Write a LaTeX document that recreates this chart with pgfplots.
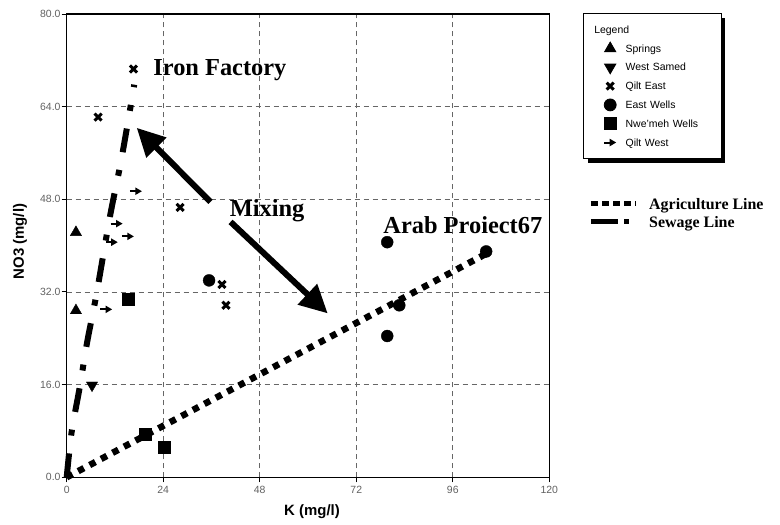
\documentclass[border=0pt]{standalone}
\usepackage{fontspec}
\setmainfont{Liberation Sans}
\newfontfamily\timesfont{Liberation Serif}
\usepackage{pgfplots}
\pgfplotsset{compat=1.18}
\usetikzlibrary{arrows.meta,shadows}

% right-pointing arrow used for the Qilt West samples
\pgfdeclareplotmark{qiltwest}{%
  \pgfsetlinewidth{2pt}%
  \pgfpathmoveto{\pgfqpoint{-6pt}{0pt}}%
  \pgfpathlineto{\pgfqpoint{0.5pt}{0pt}}%
  \pgfusepathqstroke
  \pgfpathmoveto{\pgfqpoint{-0.5pt}{3.8pt}}%
  \pgfpathlineto{\pgfqpoint{6pt}{0pt}}%
  \pgfpathlineto{\pgfqpoint{-0.5pt}{-3.8pt}}%
  \pgfpathclose
  \pgfusepathqfill}

\pgfplotsset{
  pt/.style={only marks, black, mark options={fill=black, draw=black},
    legend image code/.code={\draw[##1] plot coordinates {(0bp,0bp)};}},
}

\begin{document}
\begin{tikzpicture}
\path[use as bounding box] (-66.7bp,-47.7bp) rectangle (713.3bp,477.3bp);
\begin{axis}[
  at={(0,0)}, anchor=south west,
  scale only axis, width=482.6bp, height=463.3bp,
  xmin=0, xmax=120, ymin=0, ymax=80,
  xtick={0,24,...,120}, ytick={0,16,...,80},
  clip=false,
  grid=major,
  major grid style={dash pattern=on 5bp off 4bp, black!60, line width=0.7bp},
  axis line style={black, line width=1.2bp},
  tick align=outside, tick pos=left,
  major tick length=5bp,
  tick style={black, line width=1bp},
  /pgf/number format/assume math mode=true,
  ticklabel style={font=\fontsize{10.5}{12}\selectfont, text=black!62},
  yticklabel style={inner xsep=1bp, /pgf/number format/.cd, fixed, fixed zerofill, precision=1},
  xticklabel style={/pgf/number format/.cd, fixed, precision=0},
  xlabel={\bfseries K (mg/l)},
  ylabel={\bfseries NO3 (mg/l)},
  label style={font=\fontsize{15}{17}\selectfont},
  xlabel style={at={(axis description cs:0.5,0)}, anchor=center, yshift=-34bp, xshift=4bp},
  ylabel style={at={(axis description cs:-0.0968,0.509)}, anchor=center},
  legend cell align=left,
  legend style={
    at={(1.0705,1.0015)}, anchor=north west,
    draw=black, line width=0.8bp, fill=white,
    drop shadow={shadow xshift=4bp, shadow yshift=-4bp, fill=black, opacity=1},
    font=\fontsize{10.5}{12}\selectfont,
    inner xsep=20.5bp, inner ysep=9.5bp,
    row sep=5.8bp,
    /tikz/every odd column/.append style={column sep=9.5bp},
    nodes={inner sep=0pt, text width=75bp, align=left, text height=10bp, text depth=3bp},
  },
]

\addlegendimage{empty legend}
\addlegendentry{\hspace*{-31.4bp}Legend}

% mixing lines
\addplot[forget plot, black, line width=6.5bp, dash pattern=on 6.5bp off 6.5bp]
  coordinates {(0,0) (104.3,38.6)};
\addplot[forget plot, black, line width=6bp, smooth,
         dash pattern=on 24bp off 18bp on 6bp off 18bp]
  coordinates {(0,0) (1.2,7.7) (3.25,15.6) (5.1,23.4) (7.4,31.6)
               (10.75,45.0) (13.7,55.3) (16.8,67.8)};

% sample groups
\addplot[pt, mark=triangle*, mark size=6.5pt]
  coordinates {(2.3,42.3) (2.3,28.8)};
\addlegendentry{Springs}
\addplot[pt, mark=triangle*, mark size=6.5pt, mark options={rotate=180}]
  coordinates {(6.3,15.9)};
\addlegendentry{West Samed}
\addplot[pt, mark=x, mark size=5pt, mark options={line width=3pt}]
  coordinates {(16.6,70.5) (7.8,62.2) (28.2,46.6) (38.6,33.3) (39.6,29.7)};
\addlegendentry{Qilt East}
\addplot[pt, mark=*, mark size=6pt]
  coordinates {(35.4,34.0) (79.7,40.6) (104.3,39.0) (82.7,29.7) (79.7,24.4)};
\addlegendentry{East Wells}
\addplot[pt, mark=square*, mark size=6pt]
  coordinates {(15.3,30.7) (19.5,7.4) (24.2,5.2)};
\addlegendentry{Nwe'meh Wells}
\addplot[pt, mark=qiltwest]
  coordinates {(17.2,49.4) (12.4,43.8) (15.2,41.6) (11.2,40.6) (9.8,29.0)};
\addlegendentry{Qilt West}

% annotations
\draw[black, line width=6bp, {Triangle[length=28bp,width=27bp]}-]
  (axis cs:17.4,60.35) -- (axis cs:35.75,47.57);
\draw[black, line width=6bp, -{Triangle[length=28bp,width=27bp]}]
  (axis cs:40.75,44.1) -- (axis cs:64.9,28.3);
\node[anchor=base west, inner sep=0pt, font=\timesfont\bfseries\fontsize{24.5}{26}\selectfont]
  at (axis cs:21.5,69.4) {Iron Factory};
\node[anchor=base west, inner sep=0pt, font=\timesfont\bfseries\fontsize{24.5}{26}\selectfont]
  at (axis cs:40.5,45.0) {Mixing};
\node[anchor=base west, inner sep=0pt, font=\timesfont\bfseries\fontsize{24.5}{26}\selectfont]
  at (axis cs:78.7,42.1) {Arab Proiect67};
\end{axis}

% key for the two mixing lines
\begin{scope}[x=1bp, y=-1bp, shift={(-66.7bp,477.3bp)}]
  \draw[black, line width=5bp, dash pattern=on 6.5bp off 4.5bp] (591,204) -- (636,204);
  \draw[black, line width=5bp, dash pattern=on 27bp off 6bp on 4.5bp off 10bp] (591,222) -- (636,222);
  \node[anchor=base west, inner sep=0pt, font=\timesfont\bfseries\fontsize{16}{18}\selectfont]
    at (649,209.5) {Agriculture Line};
  \node[anchor=base west, inner sep=0pt, font=\timesfont\bfseries\fontsize{16}{18}\selectfont]
    at (649,227.5) {Sewage Line};
\end{scope}
\end{tikzpicture}
\end{document}
